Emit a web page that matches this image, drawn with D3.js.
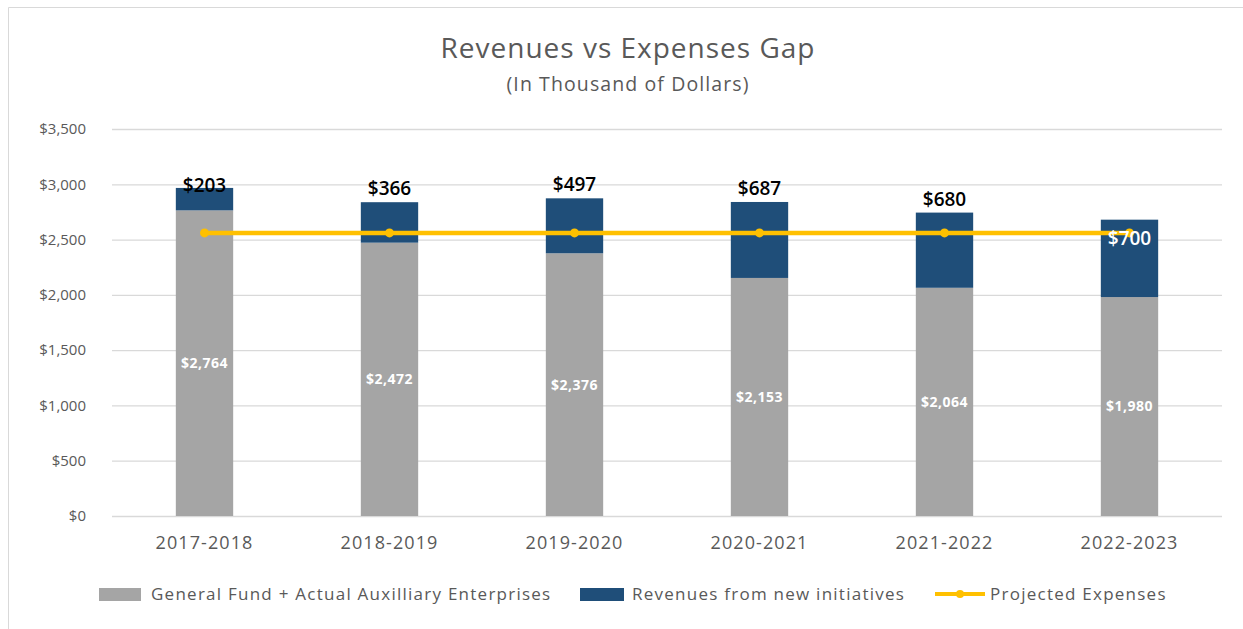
<!DOCTYPE html>
<html><head><meta charset="utf-8">
<script src="https://cdn.jsdelivr.net/npm/d3@7"></script>
<style>body{margin:0;background:#fff}svg{display:block}</style>
</head><body>
<svg id="c" width="1243" height="629"></svg>
<script>
const categories = ["2017-2018","2018-2019","2019-2020","2020-2021","2021-2022","2022-2023"];
const generalFund = [2764,2472,2376,2153,2064,1980];
const newInitiatives = [203,366,497,687,680,700];
const projectedExpenses = [2560,2560,2560,2560,2560,2560];
const yTicks = [0,500,1000,1500,2000,2500,3000,3500];
const legendLabels = ["General Fund + Actual Auxilliary Enterprises","Revenues from new initiatives","Projected Expenses"];

const colors = {gray:"#A5A5A5", blue:"#1F4E79", yellow:"#FFC000", text:"#595959", grid:"#D9D9D9"};
const font = "'Open Sans', sans-serif";
const svg = d3.select("#c");

// frame
svg.append("path").attr("d","M8.5,629 V7.5 H1243").attr("fill","none").attr("stroke","#D9D9D9").attr("stroke-width",1);

const m = {left:112, right:1222, top:129, bottom:516};
const x = d3.scaleBand().domain(categories).range([m.left,m.right]).paddingInner(0.69).paddingOuter(0.345);
const y = d3.scaleLinear().domain([0,3500]).range([m.bottom,m.top]);

// title
svg.append("text").attr("x",628).attr("y",58).attr("text-anchor","middle")
  .attr("font-family",font).attr("font-size",28).attr("letter-spacing",1).attr("fill",colors.text).text("Revenues vs Expenses Gap");
svg.append("text").attr("x",628).attr("y",91).attr("text-anchor","middle")
  .attr("font-family",font).attr("font-size",19.5).attr("letter-spacing",1.1).attr("fill",colors.text).text("(In Thousand of Dollars)");

// grid + y axis
const yAxis = d3.axisLeft(y).tickValues(yTicks).tickSize(-(m.right-m.left)).tickPadding(26)
  .tickFormat(d => "$" + d3.format(",")(d));
const ga = svg.append("g").attr("transform",`translate(${m.left},0)`).call(yAxis);
ga.select(".domain").remove();
ga.selectAll(".tick line").attr("stroke",colors.grid).attr("stroke-width",1.3);
ga.selectAll(".tick text").attr("font-family",font).attr("font-size",15).attr("fill",colors.text);

// x axis labels
const xAxis = d3.axisBottom(x).tickSize(0).tickPadding(20);
const gx = svg.append("g").attr("transform",`translate(0,${m.bottom})`).call(xAxis);
gx.select(".domain").remove();
gx.selectAll(".tick text").attr("font-family",font).attr("font-size",18).attr("letter-spacing",1.1).attr("fill",colors.text);

// bars
const data = categories.map((c,i)=>({c, g:generalFund[i], n:newInitiatives[i], p:projectedExpenses[i], i}));
svg.selectAll(".bg").data(data).join("rect")
  .attr("x",d=>x(d.c)).attr("width",x.bandwidth())
  .attr("y",d=>y(d.g)).attr("height",d=>y(0)-y(d.g)).attr("fill",colors.gray);
svg.selectAll(".bn").data(data).join("rect")
  .attr("x",d=>x(d.c)).attr("width",x.bandwidth())
  .attr("y",d=>y(d.g+d.n)).attr("height",d=>y(d.g)-y(d.g+d.n)).attr("fill",colors.blue);

// gray labels
svg.selectAll(".lg").data(data).join("text")
  .attr("x",d=>x(d.c)+x.bandwidth()/2).attr("y",d=>y(d.g/2)).attr("dy","0.35em")
  .attr("text-anchor","middle").attr("font-family",font).attr("font-size",14).attr("letter-spacing",0.5).attr("font-weight",700)
  .attr("fill","#fff").text(d=>"$"+d3.format(",")(d.g));

// line
const line = d3.line().x(d=>x(d.c)+x.bandwidth()/2).y(d=>y(d.p));
svg.append("path").datum(data).attr("d",line).attr("fill","none")
  .attr("stroke",colors.yellow).attr("stroke-width",4.5);
svg.selectAll(".pt").data(data).join("circle")
  .attr("cx",d=>x(d.c)+x.bandwidth()/2).attr("cy",d=>y(d.p)).attr("r",4.5).attr("fill",colors.yellow);

// top labels
const last = data.length-1;
svg.selectAll(".ln").data(data).join("text")
  .attr("x",d=>x(d.c)+x.bandwidth()/2)
  .attr("y",d=> d.i===last ? y(d.g+d.n)+25 : (d.i===0 ? y(d.g+d.n)+4 : y(d.g+d.n)-7))
  .attr("text-anchor","middle").attr("font-family",font).attr("font-size",19).attr("font-weight",600)
  .attr("fill",d=> d.i===last ? "#fff" : "#000").text(d=>"$"+d3.format(",")(d.n));

// legend
const ly = 594;
const lg = svg.append("g").attr("font-family",font).attr("font-size",17).attr("letter-spacing",1.25).attr("fill",colors.text);
lg.append("rect").attr("x",99).attr("y",ly-6).attr("width",42).attr("height",13).attr("fill",colors.gray);
lg.append("text").attr("x",151).attr("y",ly).attr("dy","0.35em").text(legendLabels[0]);
lg.append("rect").attr("x",580).attr("y",ly-6).attr("width",44).attr("height",13).attr("fill",colors.blue);
lg.append("text").attr("x",632).attr("y",ly).attr("dy","0.35em").text(legendLabels[1]);
lg.append("line").attr("x1",935).attr("x2",985).attr("y1",ly).attr("y2",ly).attr("stroke",colors.yellow).attr("stroke-width",4);
lg.append("circle").attr("cx",960).attr("cy",ly).attr("r",4).attr("fill",colors.yellow);
lg.append("text").attr("x",990).attr("y",ly).attr("dy","0.35em").text(legendLabels[2]);
</script>
</body></html>
